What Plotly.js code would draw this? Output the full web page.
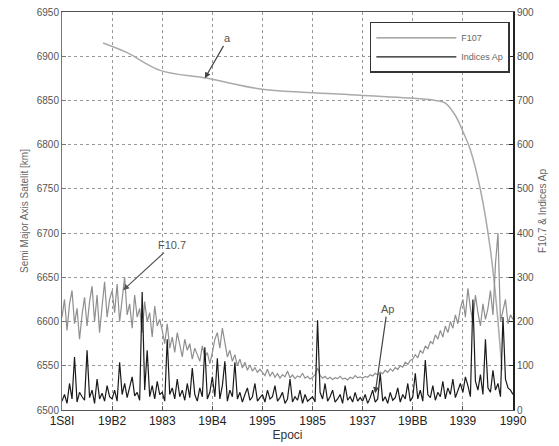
<!DOCTYPE html>
<html>
<head>
<meta charset="utf-8">
<script src="https://cdn.plot.ly/plotly-3.0.1.min.js"></script>
<style>html,body{margin:0;padding:0;background:#fff;}#chart{width:559px;height:446px;}</style>
</head>
<body>
<div id="chart"></div>
<script>
// X tick labels as printed on the chart
var tickYears = [1981, 1982, 1983, 1984, 1985, 1986, 1987, 1988, 1989, 1990];
var tickLabels = ["1S8I", "19B2", "1983", "19B4", "1995", "1985", "1937", "19BB", "1939", "1990"];

// Semi major axis (km), left axis
var saYears = [1981.82, 1982.3, 1982.96, 1983.9, 1984.95, 1985.9, 1986.95, 1988.15, 1988.45, 1988.65, 1988.85, 1989.0, 1989.15, 1989.35, 1989.55, 1989.68, 1989.78];
var saValues = [6915, 6904, 6884, 6875, 6863, 6859, 6856, 6852, 6850, 6847, 6833, 6815, 6794, 6749, 6681, 6613, 6545];

// F10.7 solar flux, sampled every 0.05 yr from 1981.00 to 1990.00 (right axis)
var f107 = [
  210, 250, 180, 240, 270, 195, 230, 160, 215, 255, 190, 245, 280, 200, 260, 175, 235, 290, 210, 250,
  270, 220, 285, 200, 250, 300, 215, 240, 185, 260, 210, 230, 175, 245, 200, 220, 165, 235, 190, 205,
  180, 150, 195, 140, 165, 130, 175, 145, 120, 160, 135, 150, 115, 140, 125, 110, 145, 120, 130, 105,
  130, 160, 175, 140, 185, 150, 120, 135, 110, 125, 100, 115, 95, 108, 90, 102, 88, 96, 85, 92,
  84, 78, 92, 76, 86, 74, 82, 72, 80, 75, 88, 73, 79, 71, 77, 74, 83, 72, 76, 70,
  74, 80, 95, 78, 72, 76, 70, 74, 69, 73, 71, 76, 70, 72, 68, 74, 71, 78, 73, 75,
  72, 76, 74, 80, 77, 83, 79, 86, 82, 90, 85, 93, 88, 96, 92, 100, 97, 108, 103, 112,
  115, 125, 118, 135, 128, 145, 138, 155, 150, 170, 160, 180, 165, 190, 175, 200, 185, 215, 195, 230,
  250, 210, 275, 230, 200, 260, 220, 190, 240, 205, 230, 270, 215, 330, 400, 200, 225, 250, 195, 215,
  205
];

// Ap geomagnetic index, same sampling (right axis)
var apIndex = [
  20, 35, 15, 60, 25, 120, 18, 40, 30, 22, 135, 28, 45, 15, 70, 25, 38, 20, 55, 30,
  25, 45, 20, 108, 35, 60, 28, 50, 75, 32, 40, 22, 267, 45, 135, 30, 55, 25, 65, 35,
  40, 20, 160, 35, 50, 25, 70, 30, 45, 22, 60, 28, 95, 35, 20, 50, 30, 142, 25, 40,
  75, 30, 117, 25, 55, 110, 20, 45, 30, 108, 25, 40, 18, 35, 50, 22, 30, 60, 20, 28,
  35, 18, 45, 25, 30, 55, 20, 28, 40, 15, 25, 70, 18, 30, 22, 45, 15, 35, 20, 25,
  30, 18, 203, 40, 25, 60, 20, 30, 45, 18, 25, 35, 15, 55, 22, 30, 18, 40, 20, 28,
  20, 35, 15, 28, 45, 18, 25, 83, 20, 30, 15, 40, 22, 28, 50, 18, 35, 25, 60, 20,
  30, 83, 25, 45, 20, 113, 35, 28, 55, 22, 40, 30, 65, 25, 50, 35, 70, 28, 45, 60,
  40, 75, 55, 30, 250, 65, 45, 80, 35, 160, 50, 40, 90, 45, 60, 30, 210, 70, 50, 45,
  35
];

var traces = [
  {
    type: 'scatter', mode: 'lines', name: 'F107',
    x0: 1981, dx: 0.05, y: f107, yaxis: 'y2',
    line: {color: '#8f8f8f', width: 1.2}
  },
  {
    type: 'scatter', mode: 'lines', name: 'Indices Ap',
    x0: 1981, dx: 0.05, y: apIndex, yaxis: 'y2',
    line: {color: '#1a1a1a', width: 1.2}
  },
  {
    type: 'scatter', mode: 'lines', name: 'a', showlegend: false,
    x: saYears, y: saValues, yaxis: 'y',
    line: {color: '#aaaaaa', width: 1.5, shape: 'spline'}
  }
];

var tickFont = {family: 'Liberation Sans, Arial, sans-serif', size: 10, color: '#555'};

var layout = {
  width: 559, height: 446,
  margin: {l: 62, r: 46, t: 12, b: 36},
  paper_bgcolor: '#fff', plot_bgcolor: '#fff',
  showlegend: true,
  legend: {
    x: 0.993, y: 0.975, xanchor: 'right', yanchor: 'top',
    bgcolor: '#fff', bordercolor: '#333', borderwidth: 1.5,
    font: {family: 'Liberation Sans, Arial, sans-serif', size: 9, color: '#666'},
    itemwidth: 80, tracegroupgap: 0
  },
  xaxis: {
    range: [1981, 1990], tickvals: tickYears, ticktext: tickLabels,
    showgrid: true, gridcolor: '#999', griddash: 'dot', gridwidth: 1,
    showline: true, linecolor: '#555', linewidth: 1, mirror: true,
    ticks: 'inside', ticklen: 4, tickcolor: '#555',
    tickfont: {family: 'Liberation Sans, Arial, sans-serif', size: 12, color: '#222'},
    zeroline: false,
    title: {text: 'Epoci', standoff: 2, font: {family: 'Liberation Sans, Arial, sans-serif', size: 12, color: '#333'}}
  },
  yaxis: {
    range: [6500, 6950], dtick: 50, tick0: 6500,
    showgrid: true, gridcolor: '#999', griddash: 'dot', gridwidth: 1,
    showline: true, linecolor: '#777', linewidth: 1,
    ticks: 'inside', ticklen: 4, tickcolor: '#777',
    tickfont: tickFont, zeroline: false,
    title: {text: 'Semi Major Axis Satelit [km]', standoff: 6, font: {family: 'Liberation Sans, Arial, sans-serif', size: 10, color: '#666'}}
  },
  yaxis2: {
    overlaying: 'y', side: 'right',
    range: [0, 900], dtick: 100, tick0: 0,
    showgrid: false, showline: true, linecolor: '#222', linewidth: 2,
    ticks: 'inside', ticklen: 4, tickcolor: '#222',
    tickfont: tickFont, zeroline: false,
    title: {text: 'F10.7 &amp; Indices Ap', standoff: 6, font: {family: 'Liberation Sans, Arial, sans-serif', size: 10, color: '#666'}}
  },
  annotations: [
    {x: 1983.85, y: 6875, xref: 'x', yref: 'y', text: 'a', showarrow: true,
     ax: 23, ay: -40, arrowhead: 2, arrowsize: 1, arrowwidth: 1.2, arrowcolor: '#444',
     font: {family: 'Liberation Sans, Arial, sans-serif', size: 11, color: '#555'}},
    {x: 1982.22, y: 271, xref: 'x', yref: 'y2', text: 'F10.7', showarrow: true,
     ax: 49, ay: -45, arrowhead: 2, arrowsize: 1, arrowwidth: 1.2, arrowcolor: '#555',
     font: {family: 'Liberation Sans, Arial, sans-serif', size: 11, color: '#555'}},
    {x: 1987.25, y: 38, xref: 'x', yref: 'y2', text: 'Ap', showarrow: true,
     ax: 12, ay: -84, arrowhead: 2, arrowsize: 1, arrowwidth: 1.2, arrowcolor: '#444',
     font: {family: 'Liberation Sans, Arial, sans-serif', size: 11, color: '#555'}}
  ]
};

Plotly.newPlot('chart', traces, layout, {displayModeBar: false, staticPlot: true});
</script>
</body>
</html>
